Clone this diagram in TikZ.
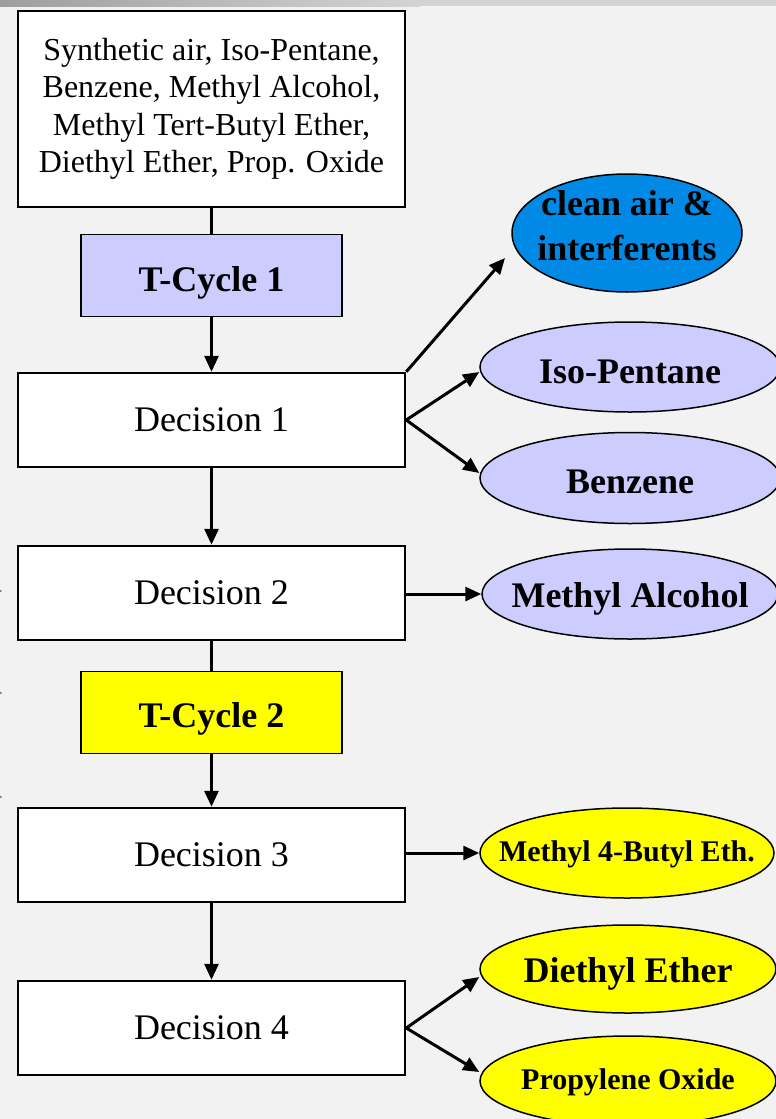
\documentclass[tikz,border=0pt]{standalone}
\usepackage{fontspec}
\setmainfont{Liberation Serif}
\usetikzlibrary{arrows.meta,shapes.geometric,calc}
\definecolor{bg}{HTML}{F2F2F2}
\definecolor{lav}{HTML}{CCCCFF}
\definecolor{skyb}{HTML}{008AE6}
\definecolor{yel}{HTML}{FFFF00}
\begin{document}
\begin{tikzpicture}[x=1pt,y=-1pt,
  box/.style={draw=black,line width=2.5pt,fill=white,inner sep=0pt,minimum width=387pt,minimum height=94pt,font=\fontsize{36}{43}\selectfont},
  cyc/.style={draw=black,line width=1.5pt,inner sep=0pt,minimum width=261pt,minimum height=82pt},
  cyctext/.style={font=\fontsize{36}{43}\selectfont\bfseries,inner sep=0pt},
  ell/.style={ellipse,draw=black,line width=1.5pt,inner sep=0pt},
  big/.style={font=\fontsize{36}{45}\selectfont\bfseries,align=center,inner sep=0pt},
  small/.style={font=\fontsize{30}{36}\selectfont\bfseries,align=center,inner sep=0pt},
  link/.style={line width=3pt},
  arr/.style={line width=3pt,-{Triangle[length=16pt,width=14pt]}}
]
\useasboundingbox (0,0) rectangle (776,1119);
\clip (0,0) rectangle (776,1119);
\fill[bg] (0,0) rectangle (776,1119);
\shade[left color=black!38,right color=black!17] (0,0) rectangle (420,6);
\fill[black!17] (419,0) rectangle (776,6);
\fill[black!55] (0.8,591) circle (1.1pt) (0.8,693) circle (1.1pt) (0.8,797) circle (1.1pt);

% left column
\node[draw=black,line width=2.5pt,fill=white,inner sep=0pt,minimum width=387pt,minimum height=196pt,align=center,font=\fontsize{32}{37.5}\selectfont] (top) at (211.5,109)
  {Synthetic air, Iso-Pentane,\\Benzene, Methyl Alcohol,\\Methyl Tert-Butyl Ether,\\Diethyl Ether, Prop. Oxide};
\node[cyc,fill=lav] (tc1) at (211.5,275.5) {};
\node[cyctext] (tc1t) at ($(tc1.center)+(0,7)$) {T-Cycle 1};
\node[box] (d1) at (211.5,420) {Decision 1};
\node[box] (d2) at (211.5,593) {Decision 2};
\node[cyc,fill=yel] (tc2) at (211.5,712.5) {};
\node[cyctext] (tc2t) at ($(tc2.center)+(0,6)$) {T-Cycle 2};
\node[box] (d3) at (211.5,855) {Decision 3};
\node[box] (d4) at (211.5,1028) {Decision 4};

% right column
\node[ell,fill=skyb,minimum width=230pt,minimum height=118pt] (ca) at (627,233) {};
\node[big] (cat) at ($(ca.center)+(0,-7)$) {clean air \&\\interferents};
\node[ell,fill=lav,minimum width=300pt,minimum height=90pt] (iso) at (630,367) {};
\node[big] (isot) at ($(iso.center)+(0,5)$) {Iso-Pentane};
\node[ell,fill=lav,minimum width=300pt,minimum height=91pt] (benz) at (630,478) {};
\node[big] (benzt) at ($(benz.center)+(0,4)$) {Benzene};
\node[ell,fill=lav,minimum width=296pt,minimum height=90pt] (meoh) at (630,594) {};
\node[big] (meoht) at ($(meoh.center)+(0,5)$) {Methyl Alcohol};
\node[ell,fill=yel,minimum width=294pt,minimum height=90pt] (mtbe) at (627,853) {};
\node[small] (mtbet) at ($(mtbe.center)+(0,1)$) {Methyl 4-Butyl Eth.};
\node[ell,fill=yel,minimum width=296pt,minimum height=88pt] (dee) at (628,969) {};
\node[big] (deet) at ($(dee.center)+(0,5)$) {Diethyl Ether};
\node[ell,fill=yel,minimum width=296pt,minimum height=90pt] (po) at (628,1081) {};
\node[small] (pot) at ($(po.center)+(0,1)$) {Propylene Oxide};

% connectors
\draw[link] (top.south) -- (tc1.north);
\draw[arr] (tc1.south) -- (d1.north);
\draw[arr] (d1.south) -- (d2.north);
\draw[link] (d2.south) -- (tc2.north);
\draw[arr] (tc2.south) -- (d3.north);
\draw[arr] (d3.south) -- (d4.north);

\coordinate (caend) at (505,258);
\draw[arr] (d1.north east) -- (caend);
\draw[arr] (d1.east) -- ($(iso.west)+(0,5)$);
\draw[arr] (d1.east) -- ($(benz.west)+(0,-5)$);
\draw[arr] (d2.east |- meoh.west) -- (meoh.west);
\draw[arr] (d3.east |- mtbe.west) -- (mtbe.west);
\draw[arr] (d4.east) -- ($(dee.west)+(0,8)$);
\draw[arr] (d4.east) -- ($(po.west)+(0,-9)$);
\end{tikzpicture}
\end{document}
